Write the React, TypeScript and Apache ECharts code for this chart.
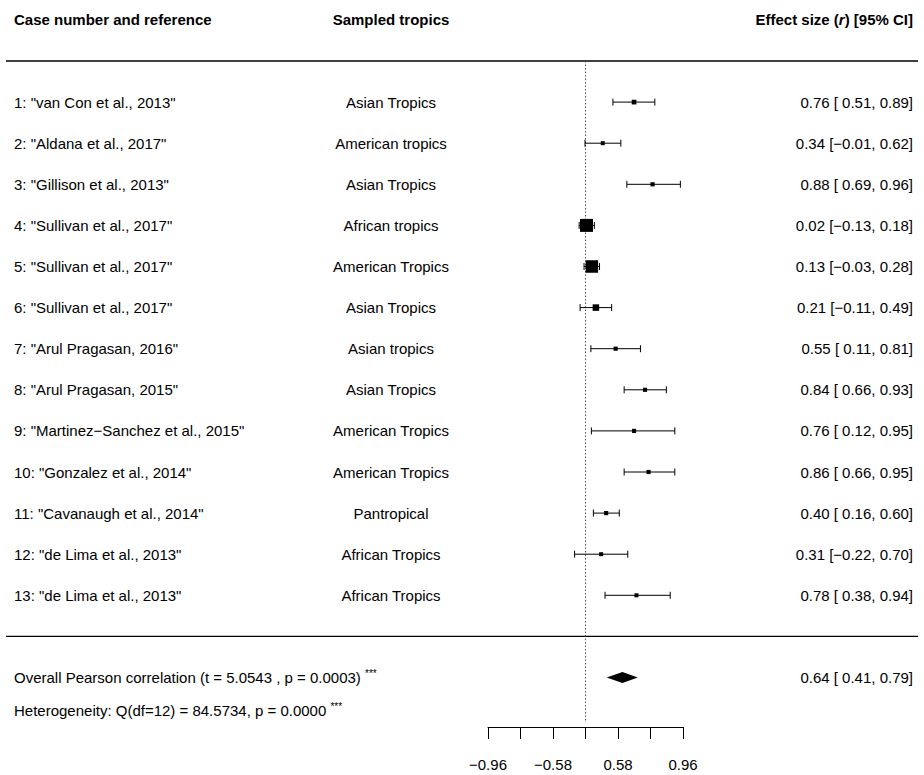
import React, { useEffect, useRef } from "react";
import * as echarts from "echarts";

// ---- study table ----
const studyLabels = [
  '1: "van Con et al., 2013"',
  '2: "Aldana et al., 2017"',
  '3: "Gillison et al., 2013"',
  '4: "Sullivan et al., 2017"',
  '5: "Sullivan et al., 2017"',
  '6: "Sullivan et al., 2017"',
  '7: "Arul Pragasan, 2016"',
  '8: "Arul Pragasan, 2015"',
  '9: "Martinez\u2212Sanchez et al., 2015"',
  '10: "Gonzalez et al., 2014"',
  '11: "Cavanaugh et al., 2014"',
  '12: "de Lima et al., 2013"',
  '13: "de Lima et al., 2013"',
];
const tropics = [
  "Asian Tropics",
  "American tropics",
  "Asian Tropics",
  "African tropics",
  "American Tropics",
  "Asian Tropics",
  "Asian tropics",
  "Asian Tropics",
  "American Tropics",
  "American Tropics",
  "Pantropical",
  "African Tropics",
  "African Tropics",
];
const effectR = [0.76, 0.34, 0.88, 0.02, 0.13, 0.21, 0.55, 0.84, 0.76, 0.86, 0.4, 0.31, 0.78];
const ciLower = [0.51, -0.01, 0.69, -0.13, -0.03, -0.11, 0.11, 0.66, 0.12, 0.66, 0.16, -0.22, 0.38];
const ciUpper = [0.89, 0.62, 0.96, 0.18, 0.28, 0.49, 0.81, 0.93, 0.95, 0.95, 0.6, 0.7, 0.94];
// relative study weights (%), drive the square sizes
const weights = [5.4, 3.4, 3.8, 29, 27.6, 10.5, 3.8, 3.8, 3.8, 3.8, 3.8, 3.4, 3.4];

// ---- pooled estimate and statistics ----
const pooledR = 0.64;
const pooledLower = 0.41;
const pooledUpper = 0.79;
const tStat = 5.0543;
const pPooled = 0.0003;
const qStat = 84.5734;
const qDf = 12;
const pQ = 0.0;

// axis ticks on the Fisher z scale; only some carry labels
const tickInterval = 2 / 3;
const labelledTicksZ = [-2, -2 / 3, 2 / 3, 2];

// ---- layout ----
const W = 924;
const H = 775;
const FONT = '"Liberation Sans", Arial, Helvetica, sans-serif';
const FS = 15;
const PLOT_LEFT = 488;
const PLOT_RIGHT = 683;
const ROW0_Y = 61;
const PITCH = 41.1;
const AXIS_Y = 727;
const Y_MAX = (AXIS_Y - ROW0_Y) / PITCH;
const REF_END_ROW = 16.1;
const SEP_ROW = 14;
const POOLED_ROW = 15;
const COL_LABEL_X = 14;
const COL_TROPICS_X = 391;
const COL_EFFECT_X = 913;
const LINE_X0 = 6;
const LINE_X1 = 918;
const HETERO_Y = 710;

const MINUS = "\u2212";
const fmt = (v: number) => (v < 0 ? MINUS : "") + Math.abs(v).toFixed(2);
const fmtPad = (v: number) => (v < 0 ? MINUS : " ") + Math.abs(v).toFixed(2);
const ciText = (r: number, lo: number, hi: number) => `${fmt(r)} [${fmtPad(lo)}, ${fmt(hi)}]`;

const wMin = Math.min(...weights);
const wMax = Math.max(...weights);
const squareSize = (w: number) => 4 + (9 * (w - wMin)) / (wMax - wMin);

const starsStyle = {
  s: { fontSize: 10, fontFamily: FONT, fill: "#000", color: "#000", verticalAlign: "top", lineHeight: 18 },
};

const textStyle = (text: string, x: number, y: number, align: string, extra: any = {}) => ({
  type: "text",
  style: {
    text,
    x,
    y,
    fill: "#000",
    fontSize: FS,
    fontFamily: FONT,
    align,
    verticalAlign: "middle",
    textAlign: align,
    textVerticalAlign: "middle",
    ...extra,
  },
});

export default function App() {
  const ref = useRef<HTMLDivElement>(null);

  useEffect(() => {
    if (!ref.current) return;
    const chart = echarts.init(ref.current, null, { renderer: "svg", width: W, height: H });

    const studyData = effectR.map((r, k) => [
      k + 1,
      Math.atanh(r),
      Math.atanh(ciLower[k]),
      Math.atanh(ciUpper[k]),
      weights[k],
    ]);

    const rowY = (row: number) => ROW0_Y + row * PITCH;

    chart.setOption({
      animation: false,
      grid: {
        left: PLOT_LEFT,
        right: W - PLOT_RIGHT,
        top: ROW0_Y,
        bottom: H - AXIS_Y,
        containLabel: false,
      },
      xAxis: {
        type: "value",
        min: -2,
        max: 2,
        interval: tickInterval,
        axisLine: { show: true, onZero: false, lineStyle: { color: "#000", width: 1 } },
        axisTick: { show: true, length: 12, lineStyle: { color: "#000", width: 1 } },
        splitLine: { show: false },
        axisLabel: {
          margin: 30,
          fontSize: FS,
          fontFamily: FONT,
          color: "#000",
          showMinLabel: true,
          showMaxLabel: true,
          formatter: (v: number) =>
            labelledTicksZ.some((t) => Math.abs(t - v) < 1e-3) ? fmt(Math.tanh(v)) : "",
        },
      },
      yAxis: { type: "value", inverse: true, min: 0, max: Y_MAX, show: false },
      graphic: [
        // header row
        textStyle("Case number and reference", COL_LABEL_X, 19, "left", { fontWeight: "bold" }),
        textStyle("Sampled tropics", COL_TROPICS_X, 19, "center", { fontWeight: "bold" }),
        textStyle("Effect size ({i|r}) [95% CI]", COL_EFFECT_X, 19, "right", {
          fontWeight: "bold",
          rich: {
            i: { fontStyle: "italic", fontWeight: "bold", fontSize: FS, fontFamily: FONT, fill: "#000", color: "#000" },
          },
        }),
        // separators
        {
          type: "line",
          shape: { x1: LINE_X0, y1: rowY(0), x2: LINE_X1, y2: rowY(0) },
          style: { stroke: "#000", lineWidth: 1.3 },
        },
        {
          type: "line",
          shape: { x1: LINE_X0, y1: rowY(SEP_ROW), x2: LINE_X1, y2: rowY(SEP_ROW) },
          style: { stroke: "#000", lineWidth: 1.3 },
        },
        // pooled summary text
        textStyle(
          `Overall Pearson correlation (t = ${tStat.toFixed(4)} , p = ${pPooled.toFixed(4)}) {s|***}`,
          COL_LABEL_X,
          rowY(POOLED_ROW),
          "left",
          { rich: starsStyle, lineHeight: 18 }
        ),
        textStyle(
          `Heterogeneity: Q(df=${qDf}) = ${qStat.toFixed(4)}, p = ${pQ.toFixed(4)} {s|***}`,
          COL_LABEL_X,
          HETERO_Y,
          "left",
          { rich: starsStyle, lineHeight: 18 }
        ),
        textStyle(ciText(pooledR, pooledLower, pooledUpper), COL_EFFECT_X, rowY(POOLED_ROW), "right"),
      ],
      series: [
        {
          // dotted reference line at r = 0
          type: "custom",
          clip: false,
          silent: true,
          data: [[0]],
          renderItem: (_p: any, api: any) => {
            const a = api.coord([0, 0]);
            const b = api.coord([0, REF_END_ROW]);
            return {
              type: "line",
              shape: { x1: a[0], y1: a[1], x2: b[0], y2: b[1] },
              style: { stroke: "#555", lineWidth: 1, lineDash: [1.5, 2] },
            };
          },
        },
        {
          // one row per study: CI bar, weighted square, text columns
          type: "custom",
          clip: false,
          silent: true,
          data: studyData,
          renderItem: (params: any, api: any) => {
            const k = params.dataIndex;
            const row = api.value(0);
            const c = api.coord([api.value(1), row]);
            const lo = api.coord([api.value(2), row]);
            const hi = api.coord([api.value(3), row]);
            const s = squareSize(api.value(4));
            const y = c[1];
            const cap = 3.5;
            const stroke = { stroke: "#000", lineWidth: 1 };
            return {
              type: "group",
              children: [
                { type: "line", shape: { x1: lo[0], y1: y, x2: hi[0], y2: y }, style: stroke },
                { type: "line", shape: { x1: lo[0], y1: y - cap, x2: lo[0], y2: y + cap }, style: stroke },
                { type: "line", shape: { x1: hi[0], y1: y - cap, x2: hi[0], y2: y + cap }, style: stroke },
                {
                  type: "rect",
                  shape: { x: c[0] - s / 2, y: y - s / 2, width: s, height: s },
                  style: { fill: "#000" },
                },
                textStyle(studyLabels[k], COL_LABEL_X, y, "left"),
                textStyle(tropics[k], COL_TROPICS_X, y, "center"),
                textStyle(ciText(effectR[k], ciLower[k], ciUpper[k]), COL_EFFECT_X, y, "right"),
              ],
            };
          },
        },
        {
          // pooled estimate diamond
          type: "custom",
          clip: false,
          silent: true,
          data: [[POOLED_ROW, Math.atanh(pooledR), Math.atanh(pooledLower), Math.atanh(pooledUpper)]],
          renderItem: (_p: any, api: any) => {
            const row = api.value(0);
            const c = api.coord([api.value(1), row]);
            const lo = api.coord([api.value(2), row]);
            const hi = api.coord([api.value(3), row]);
            const h = 5.5;
            return {
              type: "polygon",
              shape: {
                points: [
                  [lo[0], c[1]],
                  [c[0], c[1] - h],
                  [hi[0], c[1]],
                  [c[0], c[1] + h],
                ],
              },
              style: { fill: "#000" },
            };
          },
        },
      ],
    });

    return () => chart.dispose();
  }, []);

  return (
    <div
      ref={ref}
      style={{ position: "absolute", left: 0, top: 0, width: W, height: H, background: "#fff" }}
    />
  );
}
